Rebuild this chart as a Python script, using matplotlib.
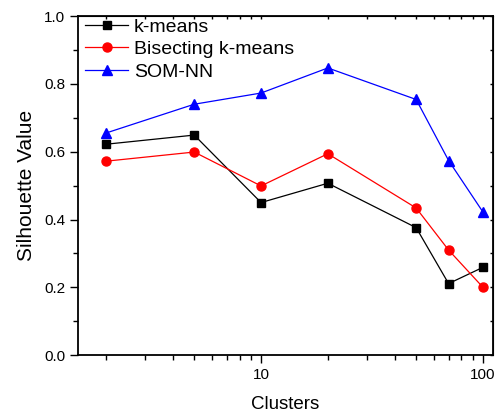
import matplotlib.pyplot as plt
from matplotlib.ticker import MultipleLocator, LogLocator, FixedLocator, NullFormatter

plt.rcParams["font.family"] = ["Liberation Sans", "DejaVu Sans"]

clusters = [2, 5, 10, 20, 50, 70, 100]
kmeans = [0.622, 0.649, 0.450, 0.507, 0.376, 0.211, 0.259]
bisecting = [0.572, 0.599, 0.499, 0.594, 0.434, 0.310, 0.200]
som_nn = [0.655, 0.740, 0.773, 0.847, 0.754, 0.574, 0.422]

fig = plt.figure(figsize=(4.95, 4.12), dpi=100)
ax = fig.add_axes([0.158, 0.138, 0.838, 0.823])

ax.plot(clusters, kmeans, "-s", color="black", lw=0.9, ms=6, label="k-means")
ax.plot(clusters, bisecting, "-o", color="red", lw=0.9, ms=6.5, label="Bisecting k-means")
ax.plot(clusters, som_nn, "-^", color="blue", lw=0.9, ms=7.5, label="SOM-NN")

ax.set_xscale("log")
ax.set_xlim(1.5, 111)
ax.set_ylim(0.0, 1.0)
ax.yaxis.set_major_locator(MultipleLocator(0.2))
ax.yaxis.set_minor_locator(MultipleLocator(0.1))
ax.xaxis.set_major_locator(FixedLocator([10, 100]))
ax.xaxis.set_major_formatter(plt.FuncFormatter(lambda v, p: f"{int(v)}"))
ax.xaxis.set_minor_locator(LogLocator(base=10, subs=range(2, 10)))
ax.xaxis.set_minor_formatter(NullFormatter())

ax.tick_params(axis="both", which="major", direction="out", length=6, width=1, labelsize=11)
ax.tick_params(axis="both", which="minor", direction="out", length=3.5, width=1)
for spine in ax.spines.values():
    spine.set_linewidth(1.3)

# inward ticks on the top and right edges
top = ax.secondary_xaxis("top")
top.xaxis.set_major_locator(FixedLocator([10, 100]))
top.xaxis.set_minor_locator(LogLocator(base=10, subs=range(2, 10)))
top.tick_params(which="both", direction="in", length=2.5, width=1, labeltop=False)
top.xaxis.set_minor_formatter(NullFormatter())
right = ax.secondary_yaxis("right")
right.yaxis.set_major_locator(MultipleLocator(0.2))
right.yaxis.set_minor_locator(MultipleLocator(0.1))
right.tick_params(which="both", direction="in", length=2.5, width=1, labelright=False)

ax.set_xlabel("Clusters", fontsize=13.5, labelpad=10)
ax.set_ylabel("Silhouette Value", fontsize=15, labelpad=6)

ax.legend(loc="upper left", bbox_to_anchor=(0.012, 1.0), frameon=False, fontsize=14,
          handlelength=2.2, borderaxespad=0.05, borderpad=0.05, handletextpad=0.3,
          labelspacing=0.25)

fig.savefig("out.png", dpi=100)
